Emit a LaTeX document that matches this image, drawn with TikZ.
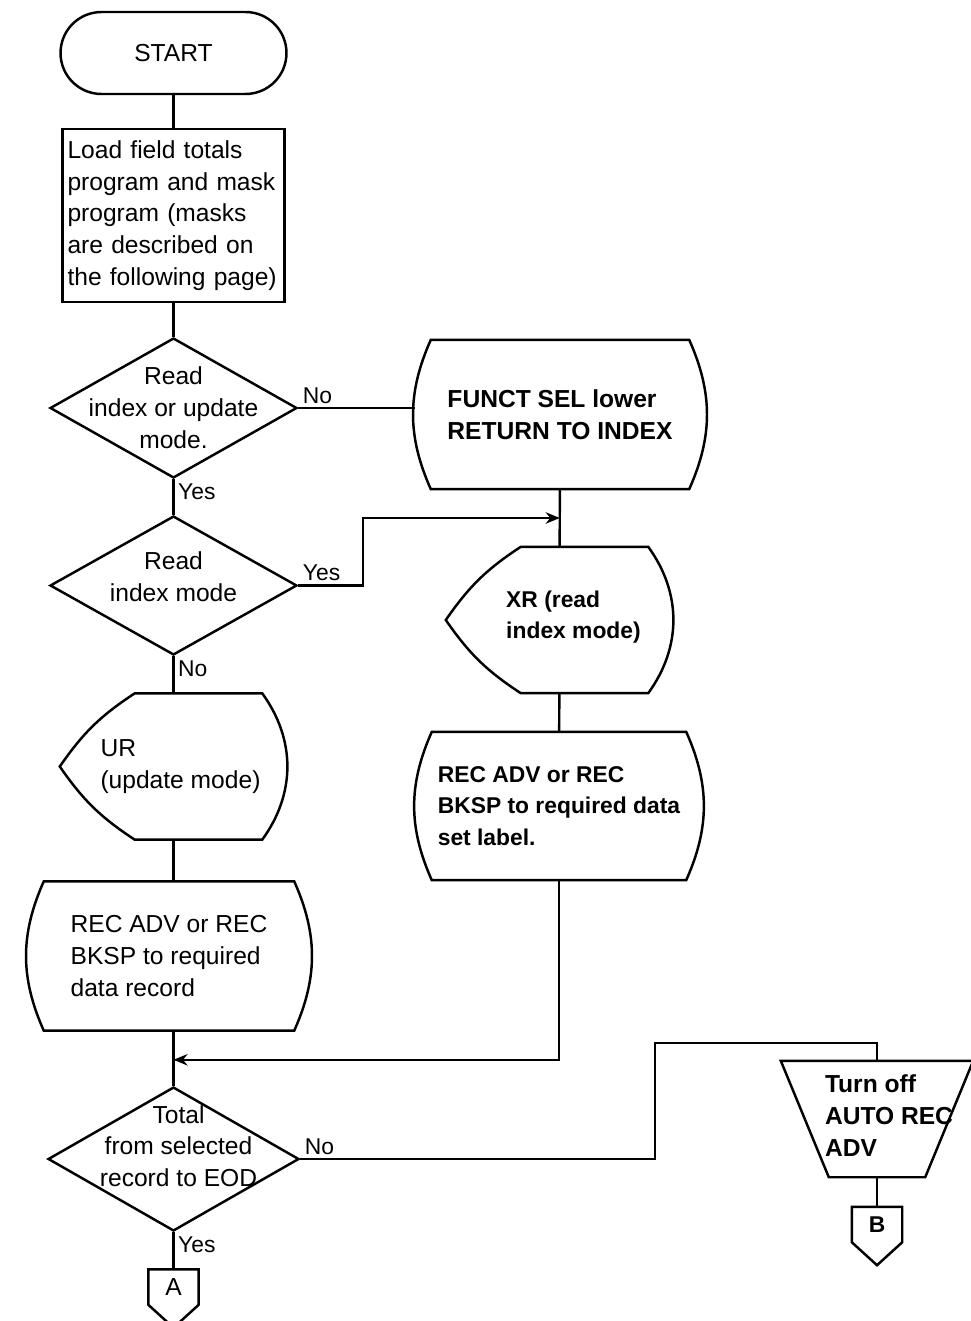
\documentclass[tikz,border=0pt]{standalone}
\usepackage{fontspec}
\setmainfont{Liberation Sans}
\usetikzlibrary{arrows.meta,calc,positioning,shapes.geometric}
\newcommand{\bodyfont}{\fontsize{14}{18.1}\selectfont}
\newcommand{\boldfont}{\fontsize{13}{18.1}\selectfont\bfseries}

\begin{document}
\begin{tikzpicture}[x=0.02cm, y=-0.02cm, line width=1.4pt, font=\bodyfont,
  terminal/.style={draw, rounded corners=0.82cm, minimum width=4.52cm, minimum height=1.64cm},
  process/.style={draw, minimum width=4.42cm, minimum height=3.46cm, text width=4.24cm, align=left, inner xsep=0.1cm},
  decision/.style={draw, diamond, minimum width=4.94cm, minimum height=2.8cm, inner sep=0pt},
  dectext/.style={align=center, inner sep=0pt},
  keyop/.style={minimum height=2.94cm, align=left, inner sep=0pt},
  screen/.style={minimum width=4.5cm, minimum height=2.88cm, inner sep=0pt},
  manual/.style={minimum width=3.8cm, minimum height=2.28cm, inner sep=0pt},
  offpage/.style={minimum width=0.96cm, minimum height=0.66cm, inner sep=0pt},
  yesno/.style={font=\fontsize{13}{15}\selectfont, inner sep=2pt},
  flow/.style={->, >={Stealth[length=8pt,width=6.5pt]}}]
  \useasboundingbox (0,0) rectangle (970,1321);

  % Left column
  \node[terminal] (start) at (173.5,53) {START};
  \node[process] (load) at (173.5,215.5) {Load field totals\\program and mask\\program (masks\\are described on\\the following page)};
  \node[decision, label={[dectext]center:{Read\\index or update\\mode.}}] (dec1) at (173.5,408) {};
  \node[decision, minimum height=2.78cm, label={[dectext, yshift=0.17cm]center:{Read\\index mode}}] (dec2) at (173.5,585.5) {};
  \node[screen, label={[align=left, xshift=0.14cm]center:{UR\\(update mode)}}] (ur) at (173.5,766.5) {};
  \node[keyop, minimum width=4.96cm] (rec1) at (169,956) {REC ADV or REC\\BKSP to required\\data record};
  \node[decision, minimum width=5.02cm, minimum height=2.88cm, label={[dectext, xshift=0.1cm, yshift=0.26cm]center:{Total\\from selected\\record to EOD}}] (dec3) at (173.5,1159) {};
  \node[offpage] (A) at (173.5,1287) {A};

  % Right column
  \node[keyop, minimum width=5.12cm, font=\fontsize{14}{18.1}\selectfont\bfseries] (fsel) at (560,414.5) {FUNCT SEL lower\\RETURN TO INDEX};
  \node[screen, label={[align=left, font=\boldfont, xshift=0.28cm, yshift=0.06cm]center:{XR (read\\index mode)}}] (xr) at (559.5,620) {};
  \node[keyop, minimum width=5.04cm, minimum height=2.92cm, font=\boldfont] (rec2) at (559,806) {REC ADV or REC\\BKSP to required data\\set label.};
  \node[manual, label={[align=left, font=\fontsize{14}{18.1}\selectfont\bfseries, xshift=0.24cm, yshift=0.07cm]center:{Turn off\\AUTO REC\\ADV}}] (trap) at (877,1119) {};
  \node[offpage, font=\boldfont] (B) at (877,1224.5) {B};

  % Keying boxes: sides bowed out
  \foreach \n in {fsel,rec1,rec2}
    \draw (\n.north west) to[bend right=24] (\n.south west) -- (\n.south east) to[bend right=24] (\n.north east) -- cycle;

  % Display outlines
  \foreach \n in {ur,xr}
    \draw (\n.west) to[bend left=11] ($(\n.north west)+(75,0)$) -- ($(\n.north east)+(-25,0)$) to[bend left=36] ($(\n.south east)+(-25,0)$) -- ($(\n.south west)+(75,0)$) to[bend left=11] (\n.west) -- cycle;

  % Manual operation
  \draw (trap.north west) -- (trap.north east) -- ($(trap.south east)+(-48,0)$) -- ($(trap.south west)+(48,0)$) -- cycle;

  % Off-page connectors
  \foreach \n in {A,B}
    \draw (\n.south west) -- (\n.north west) -- (\n.north east) -- (\n.south east) -- ($(\n.south)+(0,23)$) -- cycle;

  % Join points
  \coordinate (fsel-in) at ($(fsel.west)+(-16,0)$);
  \coordinate (jr) at ($(fsel.south)!0.5!(xr.north)$);
  \coordinate (jl) at ($(dec3.north)+(0,-26)$);
  \coordinate (hop) at (655,1043);

  % Connectors
  \draw (start) -- (load) -- (dec1) -- (dec2) -- (ur);
  \draw (ur) -- (ur |- rec1.north);
  \draw (rec1.south -| dec3.north) -- (dec3) -- (A);
  \draw (dec1.east) -- node[pos=0, yesno, anchor=south west] (no1) {No} (dec1.east -| fsel-in);
  \draw (fsel) -- (xr) -- (rec2);
  \draw[flow] (dec2.east) -- node[pos=0, yesno, anchor=south west] (yes2) {Yes} ++(65,0) |- (jr);
  \draw[flow] (rec2) |- (jl);
  \draw (dec3.east) -- node[pos=0, yesno, anchor=south west] (no3) {No} (dec3.east -| hop) -- (hop) -| (trap);
  \draw (trap) -- (B);

  % Branch labels below the decisions
  \node[yesno, anchor=north west] (yes1) at (dec1.south) {Yes};
  \node[yesno, anchor=north west] (no2) at (dec2.south) {No};
  \node[yesno, anchor=north west] (yes3) at (dec3.south) {Yes};
\end{tikzpicture}
\end{document}
